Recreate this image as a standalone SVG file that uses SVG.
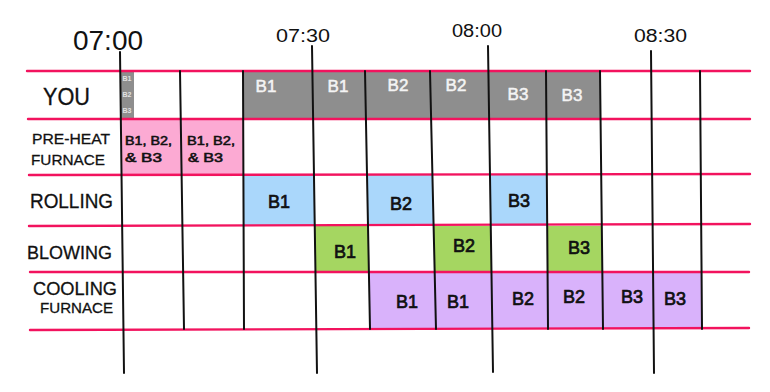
<svg xmlns="http://www.w3.org/2000/svg" width="770" height="392" viewBox="0 0 770 392">
<style>
.bg{fill:#ffffff}
.hl{stroke:#f2135e;stroke-width:2.4;fill:none;stroke-linecap:round}
.vl{stroke:#111111;stroke-width:2;fill:none;stroke-linecap:round}
.gray{fill:#8e8e8e}
.pink{fill:#fcaad3}
.blue{fill:#aad7fb}
.green{fill:#a5d661}
.purple{fill:#d9b2fb}
.lab{font-family:"Liberation Sans","DejaVu Sans",sans-serif;fill:#111111;stroke:#111111;stroke-width:0.3}
.time{font-family:"Liberation Sans","DejaVu Sans",sans-serif;fill:#111111}
.cell{font-family:"Liberation Sans","DejaVu Sans",sans-serif;font-size:18px;fill:#111111;stroke:#111111;stroke-width:0.7;text-anchor:middle}
.wcell{font-family:"Liberation Sans","DejaVu Sans",sans-serif;font-size:17px;fill:#f4f4f4;stroke:#f4f4f4;stroke-width:0.5;text-anchor:middle}
.tiny{font-family:"Liberation Sans","DejaVu Sans",sans-serif;font-weight:bold;font-size:7px;fill:#e2e2e2;text-anchor:middle}
.ph{font-family:"Liberation Sans","DejaVu Sans",sans-serif;font-size:13px;fill:#111111;stroke:#111111;stroke-width:0.6}
</style>
<rect class="bg" x="0" y="0" width="770" height="392"/>

<g id="times">
<text class="time" x="73" y="50" font-size="27" textLength="70" lengthAdjust="spacingAndGlyphs">07:00</text>
<text class="time" x="276" y="42" font-size="19" textLength="54" lengthAdjust="spacingAndGlyphs">07:30</text>
<text class="time" x="452" y="37" font-size="18" textLength="50" lengthAdjust="spacingAndGlyphs">08:00</text>
<text class="time" x="634" y="42" font-size="18" textLength="53" lengthAdjust="spacingAndGlyphs">08:30</text>
</g>

<g id="row-you">
<polygon class="gray" points="120.2,71 134,71 134,119 120.8,119"/>
<text class="tiny" x="127" y="81">B1</text>
<text class="tiny" x="127" y="97">B2</text>
<text class="tiny" x="127" y="113">B3</text>
<polygon class="gray" points="243,71 600,71 600.6,119 243.2,119"/>
<text class="wcell" x="266" y="92">B1</text>
<text class="wcell" x="338" y="92">B1</text>
<text class="wcell" x="398" y="91">B2</text>
<text class="wcell" x="456" y="91">B2</text>
<text class="wcell" x="518" y="100">B3</text>
<text class="wcell" x="572" y="101">B3</text>
<text class="lab" x="43" y="105" font-size="23" textLength="47" lengthAdjust="spacingAndGlyphs">YOU</text>
</g>

<g id="row-preheat">
<polygon class="pink" points="120.8,119 243.2,119 243.4,175 121.5,175"/>
<text class="ph" x="125" y="145" textLength="47" lengthAdjust="spacingAndGlyphs">B1, B2,</text>
<text class="ph" x="125" y="162" textLength="37" lengthAdjust="spacingAndGlyphs">&amp; B3</text>
<text class="ph" x="187" y="145" textLength="48" lengthAdjust="spacingAndGlyphs">B1, B2,</text>
<text class="ph" x="188" y="162" textLength="35" lengthAdjust="spacingAndGlyphs">&amp; B3</text>
<text class="lab" x="32" y="144" font-size="15" textLength="78" lengthAdjust="spacingAndGlyphs">PRE-HEAT</text>
<text class="lab" x="31" y="165" font-size="15" textLength="74" lengthAdjust="spacingAndGlyphs">FURNACE</text>
</g>

<g id="row-rolling">
<polygon class="blue" points="243.4,175 314,175 314.8,226 243.6,226"/>
<polygon class="blue" points="367,175 432.4,175 433.6,226 368,226"/>
<polygon class="blue" points="490,175 546.8,175 547.2,226 490.8,226"/>
<text class="cell" x="279" y="208">B1</text>
<text class="cell" x="401" y="210">B2</text>
<text class="cell" x="519" y="207">B3</text>
<text class="lab" x="30" y="208" font-size="20" textLength="83" lengthAdjust="spacingAndGlyphs">ROLLING</text>
</g>

<g id="row-blowing">
<polygon class="green" points="314.8,226 368,226 368.9,272 315.5,272"/>
<polygon class="green" points="433.6,226 490.8,226 491.5,272 434.7,272"/>
<polygon class="green" points="547.2,226 601.8,226 602.3,272 547.6,272"/>
<text class="cell" x="345" y="258">B1</text>
<text class="cell" x="464" y="252">B2</text>
<text class="cell" x="579" y="254">B3</text>
<text class="lab" x="27" y="259" font-size="19" textLength="85" lengthAdjust="spacingAndGlyphs">BLOWING</text>
</g>

<g id="row-cooling">
<polygon class="purple" points="368.9,272 701.6,272 702,329 370,329"/>
<text class="cell" x="407" y="308">B1</text>
<text class="cell" x="458" y="308">B1</text>
<text class="cell" x="523" y="305">B2</text>
<text class="cell" x="574" y="303">B2</text>
<text class="cell" x="632" y="303">B3</text>
<text class="cell" x="675" y="305">B3</text>
<text class="lab" x="33" y="295" font-size="19" textLength="84" lengthAdjust="spacingAndGlyphs">COOLING</text>
<text class="lab" x="40" y="313" font-size="15" textLength="73" lengthAdjust="spacingAndGlyphs">FURNACE</text>
</g>

<g id="grid">
<line class="hl" x1="27" y1="71" x2="750" y2="71"/>
<line class="hl" x1="28" y1="119" x2="750" y2="119"/>
<line class="hl" x1="29" y1="175" x2="750" y2="174"/>
<line class="hl" x1="29" y1="226" x2="750" y2="224"/>
<line class="hl" x1="30" y1="272" x2="749" y2="272"/>
<line class="hl" x1="30" y1="330" x2="749" y2="328"/>
<line class="vl" x1="120" y1="52" x2="124" y2="373"/>
<line class="vl" x1="180" y1="71" x2="184" y2="329"/>
<line class="vl" x1="243" y1="71" x2="244" y2="329"/>
<line class="vl" x1="312" y1="46" x2="317" y2="373"/>
<line class="vl" x1="365" y1="71" x2="370" y2="329"/>
<line class="vl" x1="430" y1="71" x2="436" y2="329"/>
<line class="vl" x1="488" y1="46" x2="493" y2="372"/>
<line class="vl" x1="546" y1="71" x2="548" y2="329"/>
<line class="vl" x1="600" y1="71" x2="603" y2="329"/>
<line class="vl" x1="651" y1="51" x2="654" y2="373"/>
<line class="vl" x1="700" y1="71" x2="702" y2="329"/>
</g>
</svg>
